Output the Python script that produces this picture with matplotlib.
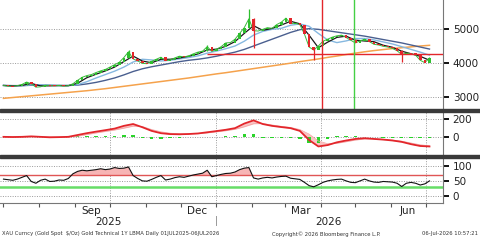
import numpy as np
import pandas as pd
import matplotlib
matplotlib.use("Agg")
import matplotlib.pyplot as plt
import matplotlib.dates as mdates
from matplotlib.patches import Rectangle

# precio de cierre, un punto cada 4 dias
fechas = pd.date_range("2025-07-01", "2026-07-04", freq="4D")
cierre = [3340, 3320, 3315, 3335, 3370, 3440, 3390, 3290, 3300, 3345,
          3340, 3330, 3340, 3320, 3335, 3390, 3490, 3580, 3630, 3660,
          3720, 3770, 3810, 3880, 3950, 4020, 4160, 4330, 4120, 4060,
          3990, 3980, 4050, 4110, 4170, 4070, 4090, 4150, 4200, 4180,
          4210, 4270, 4320, 4350, 4480, 4340, 4400, 4480, 4590, 4600,
          4700, 4870, 5040, 5300, 4950, 4940, 4990, 5040, 5020, 5130,
          5200, 5320, 5160, 5170, 5130, 4850, 4470, 4380, 4500, 4640,
          4700, 4760, 4800, 4820, 4750, 4670, 4590, 4650, 4700, 4630,
          4550, 4530, 4490, 4470, 4430, 4360, 4250, 4290, 4280, 4230,
          4080, 4010, 4150]

# mechas visibles
mecha_idx = [5, 27, 44, 53, 54, 67, 86]
mecha_baja = [3365, 4150, 4340, 5030, 4440, 4090, 4030]
mecha_alta = [3455, 4385, 4530, 5600, 5320, 4480, 4370]

rsi = [56, 54, 52, 56, 62, 68, 48, 42, 52, 56,
       48, 49, 53, 52, 58, 74, 82, 86, 84, 86,
       88, 91, 88, 90, 95, 92, 93, 97, 68, 58,
       50, 49, 55, 62, 68, 53, 56, 61, 64, 62,
       66, 70, 73, 76, 86, 64, 68, 72, 75, 76,
       80, 88, 93, 95, 60, 56, 60, 62, 60, 63,
       65, 66, 59, 57, 55, 45, 34, 30, 37, 45,
       50, 53, 55, 56, 50, 45, 44, 50, 56, 50,
       46, 45, 48, 47, 46, 42, 31, 42, 45, 42,
       36, 40, 50]

# medias moviles y MACD, un punto cada 8 dias
fechas_ma = pd.date_range("2025-07-01", "2026-07-04", freq="8D")
media_corta = [3340, 3325, 3340, 3400, 3327, 3328, 3337, 3332, 3405, 3567,
               3670, 3767, 3880, 4043, 4203, 4057, 4007, 4110, 4110, 4147,
               4197, 4267, 4383, 4407, 4490, 4630, 4870, 5097, 4960, 5017,
               5117, 5227, 5153, 4817, 4450, 4613, 4753, 4790, 4670, 4647,
               4627, 4523, 4463, 4347, 4273, 4197, 4080]
media_20 = [3340, 3330, 3330, 3360, 3360, 3350, 3335, 3335, 3365, 3450,
            3560, 3660, 3760, 3880, 4030, 4110, 4090, 4060, 4080, 4120,
            4160, 4210, 4290, 4350, 4420, 4500, 4640, 4820, 4930, 4990,
            5020, 5110, 5150, 5080, 4870, 4680, 4600, 4650, 4720, 4720,
            4680, 4620, 4560, 4480, 4400, 4320, 4230]
media_50 = [3340, 3335, 3335, 3345, 3350, 3345, 3340, 3340, 3350, 3385,
            3430, 3490, 3560, 3650, 3750, 3830, 3890, 3940, 3990, 4040,
            4080, 4110, 4150, 4200, 4260, 4320, 4400, 4500, 4600, 4700,
            4800, 4900, 4980, 5010, 4990, 4950, 4910, 4870, 4830, 4790,
            4740, 4690, 4640, 4590, 4530, 4470, 4410]
media_200 = [2960, 2985, 3010, 3035, 3060, 3085, 3110, 3135, 3160, 3185,
             3215, 3245, 3280, 3315, 3350, 3385, 3420, 3455, 3490, 3525,
             3560, 3600, 3640, 3680, 3715, 3755, 3795, 3835, 3875, 3915,
             3955, 3995, 4040, 4080, 4120, 4165, 4205, 4250, 4290, 4330,
             4365, 4395, 4425, 4450, 4475, 4500, 4520]
macd = [5, 3, 5, 10, 5, 0, 2, 5, 25, 45,
        62, 78, 95, 125, 145, 110, 70, 45, 35, 33,
        36, 42, 55, 68, 82, 100, 150, 185, 145, 125,
        112, 100, 70, -30, -100, -85, -55, -35, -18, -10,
        -18, -25, -35, -50, -75, -95, -100]
senal = [5, 4, 4, 6, 6, 4, 3, 3, 12, 30,
         48, 64, 80, 100, 122, 118, 85, 60, 45, 38,
         36, 40, 48, 60, 72, 88, 115, 148, 150, 135,
         120, 108, 85, 35, -40, -70, -65, -48, -30, -18,
         -16, -22, -30, -42, -62, -82, -92]

soporte = 4275
linea_roja = "2026-04-02"
linea_verde = "2026-04-30"

meses_txt = ["Sep", "Dec", "Mar", "Jun"]
meses_pos = ["2025-09-15", "2025-12-15", "2026-03-15", "2026-06-15"]
anios_txt = ["2025", "2026"]
anios_pos = ["2025-09-30", "2026-04-08"]

ROJO = "#e3262b"
VERDE = "#2fbf2f"
GRIS = "#9a9a9a"

fig = plt.figure(figsize=(4.8, 2.4), dpi=100)
fig.patch.set_facecolor("white")
W, H = 480.0, 240.0


def crear_eje(arriba, abajo):
    ax = fig.add_axes([0, 1 - abajo / H, 443 / W, (abajo - arriba) / H])
    ax.set_xlim(pd.Timestamp("2025-06-28"), pd.Timestamp("2026-07-15 16:00"))
    for s in ["top", "left", "bottom"]:
        ax.spines[s].set_visible(False)
    ax.spines["right"].set_color("#777777")
    ax.spines["right"].set_linewidth(0.8)
    ax.yaxis.tick_right()
    ax.tick_params(axis="y", direction="out", length=4, width=1.4, color="#111111",
                   labelsize=7.5, labelcolor="#222222", pad=3)
    ax.tick_params(axis="x", bottom=False, labelbottom=False)
    return ax


def rejilla(ax, valores):
    for v in valores:
        ax.axhline(v, color=GRIS, lw=0.7, ls=(0, (1, 1.5)), zorder=0)


# panel principal
ax1 = crear_eje(0, 108.5)
ax1.set_ylim(2662, 5853)
ax1.set_yticks([3000, 4000, 5000])
rejilla(ax1, [3000, 4000, 5000])
ax1.plot(fechas_ma, media_200, color="#f5a24c", lw=1.1, zorder=2)
ax1.plot(fechas_ma, media_50, color="#4a5f8f", lw=1.0, zorder=2)
ax1.plot(fechas_ma, media_20, color="#86b8e0", lw=1.0, zorder=2)
ax1.plot(fechas_ma, media_corta, color="#1a1a1a", lw=0.9, zorder=3)
ax1.plot(fechas, cierre, color="#3cb83c", lw=0.7, zorder=3)

abre = [cierre[0]] + cierre[:-1]
for f, o, c in zip(fechas, abre, cierre):
    col = ROJO if c < o else VERDE
    alto = c - o if abs(c - o) > 12 else (12 if c >= o else -12)
    ax1.bar(f, alto, bottom=o, width=2.2, color=col, lw=0, zorder=4)
for i, lo, hi in zip(mecha_idx, mecha_baja, mecha_alta):
    col = ROJO if cierre[i] < abre[i] else VERDE
    ax1.vlines(fechas[i], lo, hi, color=col, lw=0.9, zorder=4)

ax1.hlines(soporte, pd.Timestamp("2025-12-24"), pd.Timestamp("2026-07-16"),
           color=ROJO, lw=1.0, zorder=5)
ax1.axvline(pd.Timestamp(linea_roja), color=ROJO, lw=1.0, zorder=5)
ax1.axvline(pd.Timestamp(linea_verde), color="#44d044", lw=1.0, zorder=5)

# panel MACD
ax2 = crear_eje(111.5, 154.5)
ax2.set_ylim(-188, 282)
ax2.set_yticks([0, 200])
rejilla(ax2, [0, 200])
hist = np.array(macd) - np.array(senal)
ax2.bar(fechas_ma, hist, width=3.0, color="#2ad42a", lw=0, zorder=2)
ax2.fill_between(fechas_ma, macd, senal, color="#f9c4c4", lw=0, zorder=1)
ax2.plot(fechas_ma, senal, color="#f3a0a0", lw=0.5, zorder=2)
ax2.plot(fechas_ma, macd, color=ROJO, lw=1.3, zorder=3)

# panel RSI
ax3 = crear_eje(157.5, 202.5)
ax3.set_ylim(-23, 129)
ax3.set_yticks([0, 50, 100])
rejilla(ax3, [0, 50, 100])
rsi_arr = np.array(rsi)
ax3.fill_between(fechas, rsi_arr, 70, where=rsi_arr > 70, interpolate=True,
                 color="#f7b5b5", lw=0, zorder=1)
ax3.axhline(70, color="#e05555", lw=1.0, zorder=2)
ax3.axhline(30, color="#66dd66", lw=1.8, zorder=2)
ax3.plot(fechas, rsi, color="#111111", lw=0.8, zorder=3)
ax3.spines["bottom"].set_visible(True)
ax3.spines["bottom"].set_color("#777777")
ax3.spines["bottom"].set_linewidth(0.8)

for ax in (ax2, ax3):
    for f in ["2025-10-01", "2026-01-01", "2026-04-01", "2026-07-01"]:
        ax.axvline(pd.Timestamp(f), color=GRIS, lw=0.7, ls=(0, (1, 1.5)), zorder=0)

ax3.xaxis.set_major_locator(mdates.MonthLocator())
ax3.tick_params(axis="x", bottom=True, direction="out", length=3, width=0.8,
                color="#555555", labelbottom=False)

# etiquetas del eje x
for txt, pos in zip(meses_txt, meses_pos):
    ax3.text(pd.Timestamp(pos), -0.08, txt, transform=ax3.get_xaxis_transform(),
             ha="center", va="top", fontsize=7.5, color="#222222")
for txt, pos in zip(anios_txt, anios_pos):
    ax3.text(pd.Timestamp(pos), -0.33, txt, transform=ax3.get_xaxis_transform(),
             ha="center", va="top", fontsize=7.5, color="#222222")
ax3.plot([pd.Timestamp("2026-01-01")] * 2, [-0.3, -0.5], transform=ax3.get_xaxis_transform(),
         color="#999999", lw=0.7, clip_on=False)

# separadores
for y0, y1 in [(108.5, 111.5), (154.5, 157.5)]:
    fig.patches.append(Rectangle((0, 1 - y1 / H), 1, (y1 - y0) / H,
                                 transform=fig.transFigure, color="#3a3a3a", zorder=10))

# pie
fig.text(2 / W, 1 - 234 / H, "XAU Curncy (Gold Spot  $/Oz) Gold Technical 1Y LBMA Daily 01JUL2025-06JUL2026",
         fontsize=3.8, color="#333333", va="center", ha="left")
fig.text(272 / W, 1 - 234 / H, "Copyright\u00a9 2026 Bloomberg Finance L.P.",
         fontsize=3.8, color="#333333", va="center", ha="left")
fig.text(478 / W, 1 - 234 / H, "06-Jul-2026 10:57:21",
         fontsize=3.8, color="#333333", va="center", ha="right")

fig.savefig("out.png", dpi=100, facecolor="white")
